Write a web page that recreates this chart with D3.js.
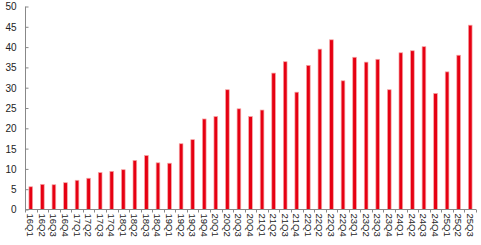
<!DOCTYPE html>
<html><head><meta charset="utf-8">
<script src="https://cdn.jsdelivr.net/npm/d3@7"></script>
<style>body{margin:0;background:#fff;}svg{display:block;font-family:"Liberation Sans",Arial,sans-serif;}</style>
</head><body><svg id="c" width="481" height="245"></svg>
<script>
const categories = ["16Q1","16Q2","16Q3","16Q4","17Q1","17Q2","17Q3","17Q4","18Q1","18Q2","18Q3","18Q4","19Q1","19Q2","19Q3","19Q4","20Q1","20Q2","20Q3","20Q4","21Q1","21Q2","21Q3","21Q4","22Q1","22Q2","22Q3","22Q4","23Q1","23Q2","23Q3","23Q4","24Q1","24Q2","24Q3","24Q4","25Q1","25Q2","25Q3"];
const values = [5.6,6.2,6.1,6.6,7.2,7.7,9.1,9.4,9.8,12.1,13.3,11.5,11.4,16.2,17.2,22.3,22.9,29.5,24.8,22.9,24.5,33.6,36.4,28.9,35.5,39.5,41.8,31.7,37.5,36.3,37.0,29.5,38.6,39.1,40.1,28.6,33.9,38.0,45.4];
const yTicks = [0,5,10,15,20,25,30,35,40,45,50];

const svg = d3.select("#c");
const x = d3.scaleBand().domain(categories).range([25, 476]).paddingInner(0.68).paddingOuter(0.34);
const y = d3.scaleLinear().domain([0,50]).range([209.5, 6.5]);

svg.selectAll("rect.bar").data(values).enter().append("rect")
  .attr("class","bar")
  .attr("x",(d,i)=>x(categories[i]))
  .attr("width",x.bandwidth())
  .attr("y",d=>y(d))
  .attr("height",d=>y(0)-y(d))
  .attr("fill","#e60012")
  .attr("stroke","#f6a8a8").attr("stroke-width",0.7);

const yAxis = d3.axisRight(y).tickValues(yTicks).tickSize(3).tickFormat(d3.format("d"));
const gy = svg.append("g").attr("transform","translate(25.5,0)").call(yAxis);
gy.select(".domain").attr("stroke","#888").attr("d","M0,"+y(50)+"V"+y(0));
gy.selectAll(".tick line").attr("stroke","#888");
gy.selectAll(".tick text").attr("x",-9).attr("text-anchor","end").attr("font-size",10).attr("fill","#222").attr("dy","0.34em");

const gx = svg.append("g").attr("transform","translate(0,"+y(0)+")");
gx.append("line").attr("x1",25).attr("x2",476).attr("stroke","#888");
const step = x.step();
const gap = (step - x.bandwidth())/2;
gx.selectAll("line.t").data(categories.concat(["end"])).enter().append("line")
  .attr("class","t")
  .attr("x1",(d,i)=>Math.round(x(categories[0]) - gap + i*step)+0.5)
  .attr("x2",(d,i)=>Math.round(x(categories[0]) - gap + i*step)+0.5)
  .attr("y1",0).attr("y2",3).attr("stroke","#888");
gx.selectAll("text").data(categories).enter().append("text")
  .attr("transform",d=>"translate("+(x(d)+x.bandwidth()/2-3.5)+",4) rotate(90)")
  .attr("font-size",9.5).attr("fill","#222").attr("text-anchor","start")
  .text(d=>d);
</script></body></html>
